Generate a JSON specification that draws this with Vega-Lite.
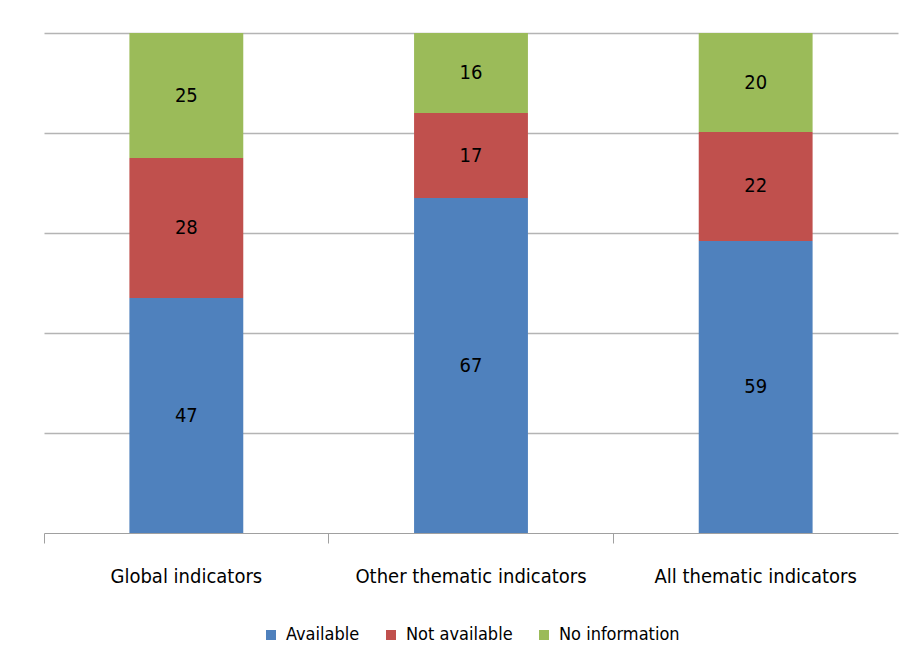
{
  "$schema": "https://vega.github.io/schema/vega-lite/v6.json",
  "autosize": "none",
  "width": 854,
  "height": 500,
  "padding": {"left": 44, "top": 33, "right": 17, "bottom": 139},
  "background": "white",
  "config": {
    "view": {"stroke": null},
    "font": "DejaVu Sans Condensed, Liberation Sans Narrow, sans-serif",
    "legend": {"layout": {"anchor": "middle"}}
  },
  "data": {
    "values": [
      {"group": "Global indicators", "status": "Available", "rank": 1, "value": 47},
      {"group": "Global indicators", "status": "Not available", "rank": 2, "value": 28},
      {"group": "Global indicators", "status": "No information", "rank": 3, "value": 25},
      {"group": "Other thematic indicators", "status": "Available", "rank": 1, "value": 67},
      {"group": "Other thematic indicators", "status": "Not available", "rank": 2, "value": 17},
      {"group": "Other thematic indicators", "status": "No information", "rank": 3, "value": 16},
      {"group": "All thematic indicators", "status": "Available", "rank": 1, "value": 59},
      {"group": "All thematic indicators", "status": "Not available", "rank": 2, "value": 22},
      {"group": "All thematic indicators", "status": "No information", "rank": 3, "value": 20}
    ]
  },
  "encoding": {
    "x": {
      "field": "group",
      "type": "nominal",
      "sort": ["Global indicators", "Other thematic indicators", "All thematic indicators"],
      "scale": {"paddingInner": 0, "paddingOuter": 0},
      "axis": {
        "title": null,
        "labelAngle": 0,
        "labelFontSize": 20,
        "labelLimit": 0,
        "labelColor": "#000000",
        "labelPadding": 23,
        "bandPosition": 0,
        "tickSize": 10,
        "tickColor": "#a0a0a0",
        "domainColor": "#a0a0a0",
        "grid": false
      }
    }
  },
  "layer": [
    {
      "mark": {"type": "bar", "width": {"band": 0.4}},
      "encoding": {
        "y": {
          "field": "value",
          "type": "quantitative",
          "stack": "normalize",
          "scale": {"domain": [0, 1]},
          "axis": {
            "title": null,
            "labels": false,
            "ticks": false,
            "domain": false,
            "values": [0.2, 0.4, 0.6, 0.8, 1],
            "grid": true,
            "gridColor": "#b4b4b4",
            "gridWidth": 1.3
          }
        },
        "color": {
          "field": "status",
          "type": "nominal",
          "sort": ["Available", "Not available", "No information"],
          "scale": {
            "domain": ["Available", "Not available", "No information"],
            "range": ["#4F81BD", "#C0504D", "#9BBB59"]
          },
          "legend": {
            "title": null,
            "orient": "bottom",
            "direction": "horizontal",
            "symbolType": "square",
            "symbolSize": 100,
            "symbolStrokeWidth": 0,
            "labelFontSize": 18,
            "labelColor": "#000000",
            "columnPadding": 22,
            "labelOffset": 6,
            "offset": 40
          }
        },
        "order": {"field": "rank", "type": "quantitative", "sort": "ascending"}
      }
    },
    {
      "mark": {"type": "text", "fontSize": 20, "color": "#000000"},
      "encoding": {
        "y": {
          "field": "value",
          "type": "quantitative",
          "stack": "normalize",
          "bandPosition": 0.5
        },
        "detail": {"field": "status", "type": "nominal"},
        "order": {"field": "rank", "type": "quantitative", "sort": "ascending"},
        "text": {"field": "value", "type": "quantitative"}
      }
    }
  ]
}
